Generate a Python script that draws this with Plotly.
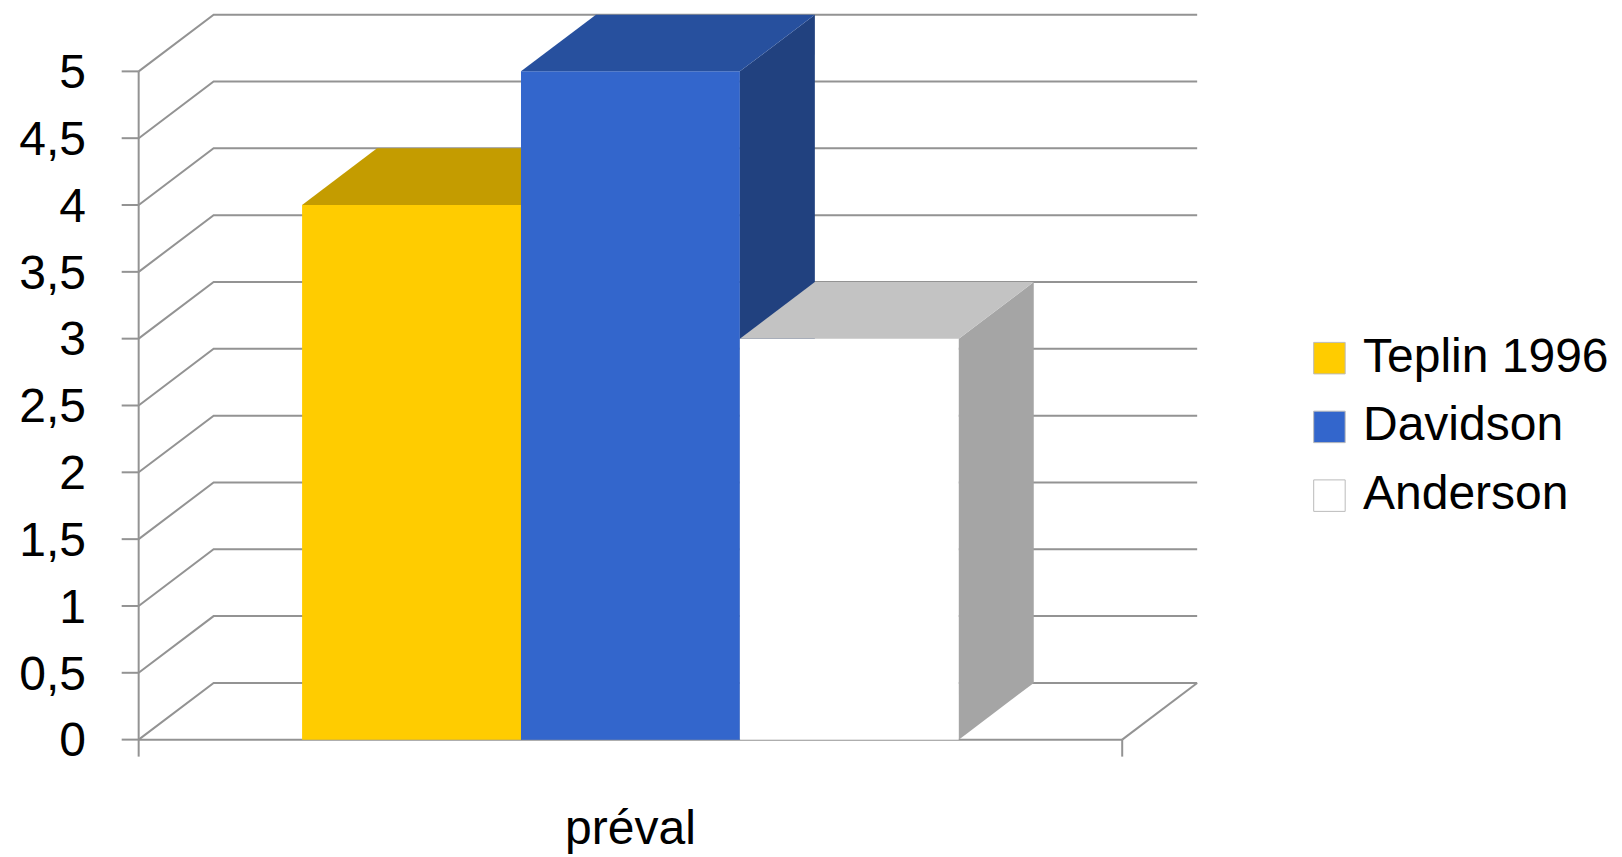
import plotly.graph_objects as go

# ---------------- data ----------------
categories = ["préval"]
series_names = ["Teplin 1996", "Davidson", "Anderson"]
series_values = [4, 5, 3]
y_tick_values = [0, 0.5, 1, 1.5, 2, 2.5, 3, 3.5, 4, 4.5, 5]
y_tick_labels = ["0", "0,5", "1", "1,5", "2", "2,5", "3", "3,5", "4", "4,5", "5"]

# ---------------- styles ----------------
front_colors = ["#FFCC00", "#3366CC", "#FFFFFF"]
top_colors = ["#C49C00", "#27509E", "#C3C3C3"]
side_colors = ["#9E7E00", "#21417F", "#A5A5A5"]
grid_color = "#939393"
FONT = "Liberation Sans"
FONT_SIZE = 48

# ---------------- geometry (pixels of the page) ----------------
W, H = 1622, 857
PAGE_OFFSET = 8                      # default body margin of the html page
AX_X0, AX_X1 = 138.3, 1122.4        # front category axis ends
AX_Y0, AX_YTOP = 740.0, 71.7         # pixel of value 0 and of top tick
DEPTH_PX_X, DEPTH_PX_Y = 75.0, 56.7  # oblique depth offset
GROUP_FRAC = 0.6677                  # share of the category taken by the bars
TICK_PX = 17.0

y_max = max(y_tick_values)
px_x = AX_X1 - AX_X0
px_y = (AX_Y0 - AX_YTOP) / y_max
DX = DEPTH_PX_X / px_x
DY = DEPTH_PX_Y / px_y
TX = TICK_PX / px_x
TY = TICK_PX / px_y

x_range = [-0.02, 1 + DX + 0.01]
y_range = [-0.13, y_max + DY + 0.02]

plot_left = AX_X0 + x_range[0] * px_x
plot_right = AX_X0 + x_range[1] * px_x
plot_bottom = AX_Y0 - y_range[0] * px_y
plot_top = AX_Y0 - y_range[1] * px_y
m_l = plot_left - PAGE_OFFSET
m_t = plot_top - PAGE_OFFSET
m_r = W - plot_right + PAGE_OFFSET
m_b = H - plot_bottom + PAGE_OFFSET

fig = go.Figure()

# ---------------- walls / gridlines ----------------
gx, gy = [], []
for v in y_tick_values:
    # left wall diagonal + back wall horizontal
    gx += [0, DX, 1 + DX, None]
    gy += [v, v + DY, v + DY, None]
# floor right edge
gx += [1, 1 + DX, None]
gy += [0, DY, None]
fig.add_trace(go.Scatter(x=gx, y=gy, mode="lines", line=dict(color=grid_color, width=2),
                         hoverinfo="skip", showlegend=False))

# front axes, value ticks and category ticks
ax, ay = [0, 0, None, 0, 1, None], [y_max, 0, None, 0, 0, None]
for v in y_tick_values:
    ax += [-TX, 0, None]
    ay += [v, v, None]
for c in [0, 1]:
    ax += [c, c, None]
    ay += [0, -TY, None]
fig.add_trace(go.Scatter(x=ax, y=ay, mode="lines", line=dict(color=grid_color, width=2),
                         hoverinfo="skip", showlegend=False))

# ---------------- 3D bars (one overlaid subplot per bar, painter's order) ----------------
n = len(series_values)
bw = GROUP_FRAC / n
start = 0.5 - GROUP_FRAC / 2
for i, (name, v) in enumerate(zip(series_names, series_values)):
    xa, ya = f"x{i + 2}", f"y{i + 2}"
    xl = start + i * bw
    xr = xl + bw
    fig.add_trace(go.Bar(x=[xl + bw / 2], y=[v], width=[bw], name=name,
                         marker=dict(color=front_colors[i], line=dict(width=0)),
                         xaxis=xa, yaxis=ya, showlegend=False))
    # side face
    fig.add_trace(go.Scatter(x=[xr, xr + DX, xr + DX, xr, xr], y=[0, DY, v + DY, v, 0],
                             fill="toself", fillcolor=side_colors[i], mode="lines",
                             line=dict(width=0, color=side_colors[i]),
                             xaxis=xa, yaxis=ya, hoverinfo="skip", showlegend=False))
    # top face
    fig.add_trace(go.Scatter(x=[xl, xl + DX, xr + DX, xr, xl], y=[v, v + DY, v + DY, v, v],
                             fill="toself", fillcolor=top_colors[i], mode="lines",
                             line=dict(width=0, color=top_colors[i]),
                             xaxis=xa, yaxis=ya, hoverinfo="skip", showlegend=False))

# ---------------- layout ----------------
layout = dict(
    width=W, height=H,
    margin=dict(l=m_l, r=m_r, t=m_t, b=m_b, autoexpand=False),
    paper_bgcolor="white", plot_bgcolor="rgba(0,0,0,0)",
    font=dict(family=FONT, size=FONT_SIZE, color="black"),
    showlegend=False,
    xaxis=dict(range=x_range, showgrid=False, zeroline=False, showline=False, automargin=False,
               tickvals=[0.5], ticktext=categories, ticks="", ticklabelstandoff=38,
               tickfont=dict(family=FONT, size=FONT_SIZE, color="black"), fixedrange=True),
    yaxis=dict(range=y_range, showgrid=False, zeroline=False, showline=False, automargin=False,
               tickvals=y_tick_values, ticktext=y_tick_labels, ticks="", ticklabelstandoff=32,
               tickfont=dict(family=FONT, size=FONT_SIZE, color="black"), fixedrange=True),
)
for i in range(n):
    layout[f"xaxis{i + 2}"] = dict(range=x_range, overlaying="x", visible=False, fixedrange=True)
    layout[f"yaxis{i + 2}"] = dict(range=y_range, overlaying="y", visible=False, fixedrange=True)
fig.update_layout(**layout)

# ---------------- legend (drawn to match the large swatches) ----------------
plot_w = plot_right - plot_left
plot_h = plot_bottom - plot_top
LEG_SW_X0, LEG_SW_SIZE, LEG_TEXT_X = 1314.0, 31.5, 1361.0
LEG_Y0, LEG_STEP = 358.5, 68.75
LEG_TEXT_DY = -3.0


def px2paper_x(px):
    return (px - plot_left) / plot_w


def px2paper_y(py):
    return (plot_bottom - py) / plot_h


for i, name in enumerate(series_names):
    cy = LEG_Y0 + i * LEG_STEP
    fig.add_shape(type="rect", xref="paper", yref="paper",
                  x0=px2paper_x(LEG_SW_X0), x1=px2paper_x(LEG_SW_X0 + LEG_SW_SIZE),
                  y0=px2paper_y(cy + LEG_SW_SIZE / 2), y1=px2paper_y(cy - LEG_SW_SIZE / 2),
                  fillcolor=front_colors[i], line=dict(color="#BBBBBB", width=1))
    fig.add_annotation(xref="paper", yref="paper", x=px2paper_x(LEG_TEXT_X),
                       y=px2paper_y(cy + LEG_TEXT_DY),
                       xanchor="left", yanchor="middle", text=name, showarrow=False,
                       font=dict(family=FONT, size=FONT_SIZE, color="black"))

fig.write_html("out.html")
